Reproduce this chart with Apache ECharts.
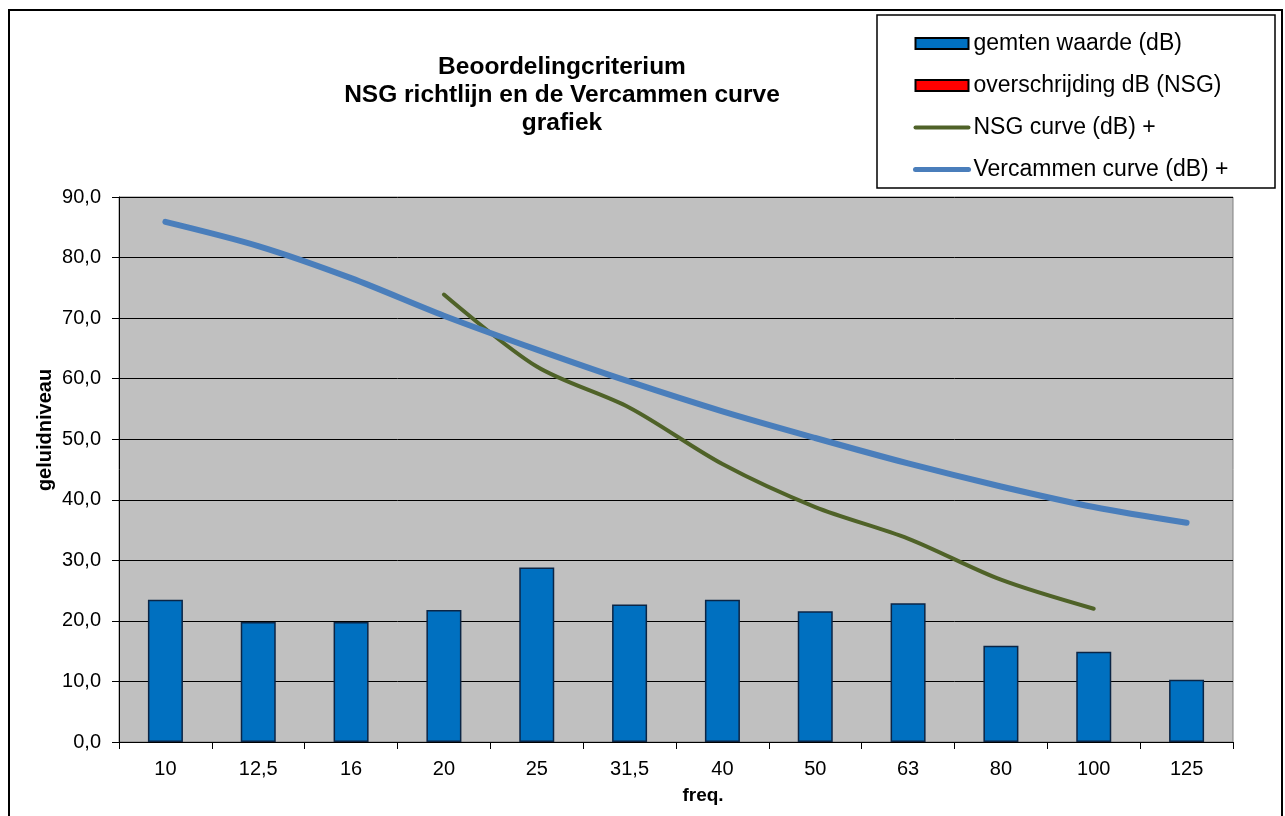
<!DOCTYPE html>
<html>
<head>
<meta charset="utf-8">
<script src="https://cdn.jsdelivr.net/npm/echarts@6/dist/echarts.min.js"></script>
<style>
html,body{margin:0;padding:0;background:#fff;}
#c{width:1285px;height:816px;}
</style>
</head>
<body>
<div id="c"></div>
<script>
// ---- data ----
const categories = ['10', '12,5', '16', '20', '25', '31,5', '40', '50', '63', '80', '100', '125'];
const gemetenWaarde = [23.5, 19.8, 19.8, 21.8, 28.8, 22.7, 23.5, 21.6, 22.9, 15.9, 14.9, 10.3];
const overschrijding = [0, 0, 0, 0, 0, 0, 0, 0, 0, 0, 0, 0];
const nsgCurve = [null, null, null, 73.9, 62.0, 55.2, 45.9, 38.8, 33.6, 26.8, 22.0, null];
const vercammenCurve = [85.9, 81.9, 76.6, 70.4, 64.8, 59.5, 54.6, 50.2, 46.0, 42.2, 38.8, 36.2];
const seriesNames = ['gemten waarde (dB)', 'overschrijding dB (NSG)', 'NSG curve (dB) +', 'Vercammen curve (dB) +'];
const titleLines = ['Beoordelingcriterium', 'NSG richtlijn en de Vercammen curve', 'grafiek'];
const yAxisTitle = 'geluidniveau';
const xAxisTitle = 'freq.';
const yMin = 0, yMax = 90, yStep = 10;

const FONT = '"Liberation Sans", Arial, Helvetica, sans-serif';

const chart = echarts.init(document.getElementById('c'), null, {renderer: 'canvas'});

chart.setOption({
  animation: false,
  backgroundColor: '#ffffff',
  title: {
    text: titleLines.join('\n'),
    left: 562,
    top: 53,
    padding: 0,
    textAlign: 'center',
    textStyle: {
      fontFamily: FONT,
      fontSize: 24.5,
      fontWeight: 'bold',
      color: '#000',
      lineHeight: 28
    }
  },
  legend: {
    orient: 'vertical',
    left: 913,
    top: 32,
    padding: 0,
    itemWidth: 53,
    itemHeight: 11,
    itemGap: 19,
    textStyle: {fontFamily: FONT, fontSize: 23, color: '#000', lineHeight: 22},
    data: [
      {name: seriesNames[0], icon: 'rect', itemStyle: {borderColor: '#000', borderWidth: 2}},
      {name: seriesNames[1], icon: 'rect', itemStyle: {borderColor: '#000', borderWidth: 2}},
      {name: seriesNames[2], lineStyle: {width: 4}, itemStyle: {opacity: 0}},
      {name: seriesNames[3], lineStyle: {width: 5}, itemStyle: {opacity: 0}}
    ]
  },
  graphic: [
    {type: 'rect', silent: true, z: 0,
     shape: {x: 9, y: 10, width: 1273, height: 840},
     style: {fill: 'none', stroke: '#000', lineWidth: 2}},
    {type: 'rect', silent: true, z: 0,
     shape: {x: 877, y: 15, width: 398, height: 173},
     style: {fill: 'none', stroke: '#000', lineWidth: 1.5}},
    {type: 'text', silent: true, x: 45, y: 430, rotation: Math.PI / 2,
     style: {text: yAxisTitle, font: 'bold 20px ' + FONT, fill: '#000', align: 'center', verticalAlign: 'middle'}},
    {type: 'text', silent: true, x: 703, y: 796,
     style: {text: xAxisTitle, font: 'bold 19px ' + FONT, fill: '#000', align: 'center', verticalAlign: 'middle'}}
  ],
  grid: {
    left: 119, top: 197, width: 1114, height: 545,
    show: true,
    backgroundColor: '#C0C0C0',
    borderColor: '#808080',
    borderWidth: 1
  },
  xAxis: {
    type: 'category',
    data: categories,
    boundaryGap: true,
    axisLine: {show: true, lineStyle: {color: '#000', width: 1}},
    axisTick: {show: true, length: 7, alignWithLabel: false, lineStyle: {color: '#000'}},
    axisLabel: {fontFamily: FONT, fontSize: 20, color: '#000', margin: 17, interval: 0},
    splitLine: {show: false}
  },
  yAxis: {
    type: 'value',
    min: yMin, max: yMax, interval: yStep,
    axisLine: {show: true, lineStyle: {color: '#000', width: 1}},
    axisTick: {show: true, length: 7, lineStyle: {color: '#000'}},
    axisLabel: {
      fontFamily: FONT, fontSize: 20, color: '#000', margin: 18,
      formatter: v => v.toFixed(1).replace('.', ',')
    },
    splitLine: {show: true, lineStyle: {color: '#000', width: 1}}
  },
  series: [
    {
      name: seriesNames[0], type: 'bar', stack: 'meting', data: gemetenWaarde,
      barWidth: 35,
      itemStyle: {color: '#0070C0', borderColor: '#0B2545', borderWidth: 1.5},
      z: 2
    },
    {
      name: seriesNames[1], type: 'bar', stack: 'meting', data: overschrijding,
      barWidth: 35,
      itemStyle: {color: '#FF0000', borderColor: '#000', borderWidth: 0},
      z: 2
    },
    {
      name: seriesNames[2], type: 'line', data: nsgCurve,
      symbol: 'none', smooth: 0.3, connectNulls: false,
      lineStyle: {color: '#4F6228', width: 4, cap: 'round'},
      itemStyle: {color: '#4F6228'},
      z: 3
    },
    {
      name: seriesNames[3], type: 'line', data: vercammenCurve,
      symbol: 'none', smooth: 0.3,
      lineStyle: {color: '#4A7EBB', width: 6, cap: 'round'},
      itemStyle: {color: '#4A7EBB'},
      z: 4
    }
  ]
});
</script>
</body>
</html>
